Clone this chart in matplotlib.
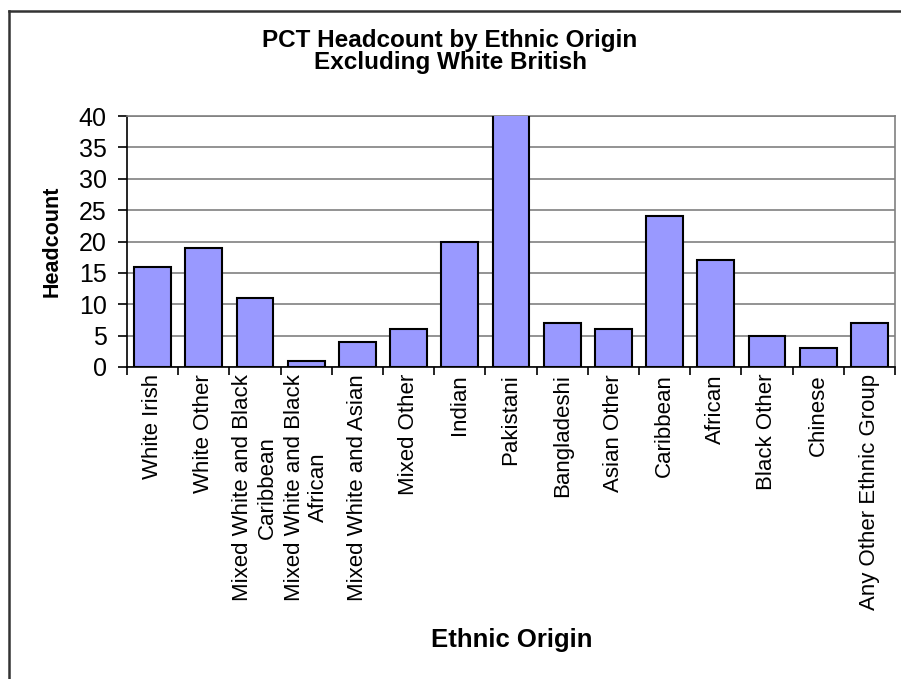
import matplotlib.pyplot as plt
import matplotlib.lines as mlines
import numpy as np

plt.rcParams['font.family'] = ['Liberation Sans', 'DejaVu Sans']

categories = ["White Irish", "White Other", "Mixed White and Black\nCaribbean",
              "Mixed White and Black\nAfrican", "Mixed White and Asian", "Mixed Other",
              "Indian", "Pakistani", "Bangladeshi", "Asian Other", "Caribbean",
              "African", "Black Other", "Chinese", "Any Other Ethnic Group"]
headcount = [16, 19, 11, 1, 4, 6, 20, 44, 7, 6, 24, 17, 5, 3, 7]
yticks = [0, 5, 10, 15, 20, 25, 30, 35, 40]

fig = plt.figure(figsize=(9.01, 6.79), dpi=100)
ax = fig.add_axes([127/901, 1 - 367/679, (895 - 127)/901, (367 - 116)/679])

x = np.arange(len(categories))
ax.bar(x, headcount, width=0.715, color="#9999FF", edgecolor="black", linewidth=1.5, zorder=3)

ax.set_xlim(-0.5, len(categories) - 0.5)
ax.set_ylim(0, 40)
ax.set_yticks(yticks)
ax.yaxis.grid(True, color="#808080", linewidth=1.2, zorder=0)

ax.set_xticks(x)
ax.set_xticklabels(categories, rotation=90, ha="center", va="top", multialignment="center", fontsize=16)
ax.set_xticks(np.arange(len(categories) + 1) - 0.5, minor=True)
ax.tick_params(axis="x", which="major", length=0, pad=5)
ax.tick_params(axis="x", which="minor", length=6, width=1.2, color="black")
ax.tick_params(axis="y", length=6.5, width=1.2, labelsize=18, pad=8)

for side in ["top", "right"]:
    ax.spines[side].set_color("#808080")
    ax.spines[side].set_linewidth(1.2)
ax.spines["left"].set_linewidth(1.2)
ax.spines["bottom"].set_linewidth(1.2)

fig.text(450/901, 1 - 47/679, "PCT Headcount by Ethnic Origin", ha="center", va="baseline",
         fontsize=17.5, fontweight="bold")
fig.text(450/901, 1 - 69/679, "Excluding White British", ha="center", va="baseline",
         fontsize=17.5, fontweight="bold")
fig.text(52/901, 1 - 241/679, "Headcount", rotation=90, ha="center", va="center",
         fontsize=15.5, fontweight="bold")
fig.text(512/901, 1 - 640/679, "Ethnic Origin", ha="center", va="center",
         fontsize=18.5, fontweight="bold")

# outer chart frame (only top and left edges visible)
fig.add_artist(mlines.Line2D([9/901, 1], [1 - 11/679, 1 - 11/679], color="#333333", linewidth=1.8))
fig.add_artist(mlines.Line2D([9/901, 9/901], [0, 1 - 11/679], color="#333333", linewidth=1.8))

fig.savefig("out.png", dpi=100)
